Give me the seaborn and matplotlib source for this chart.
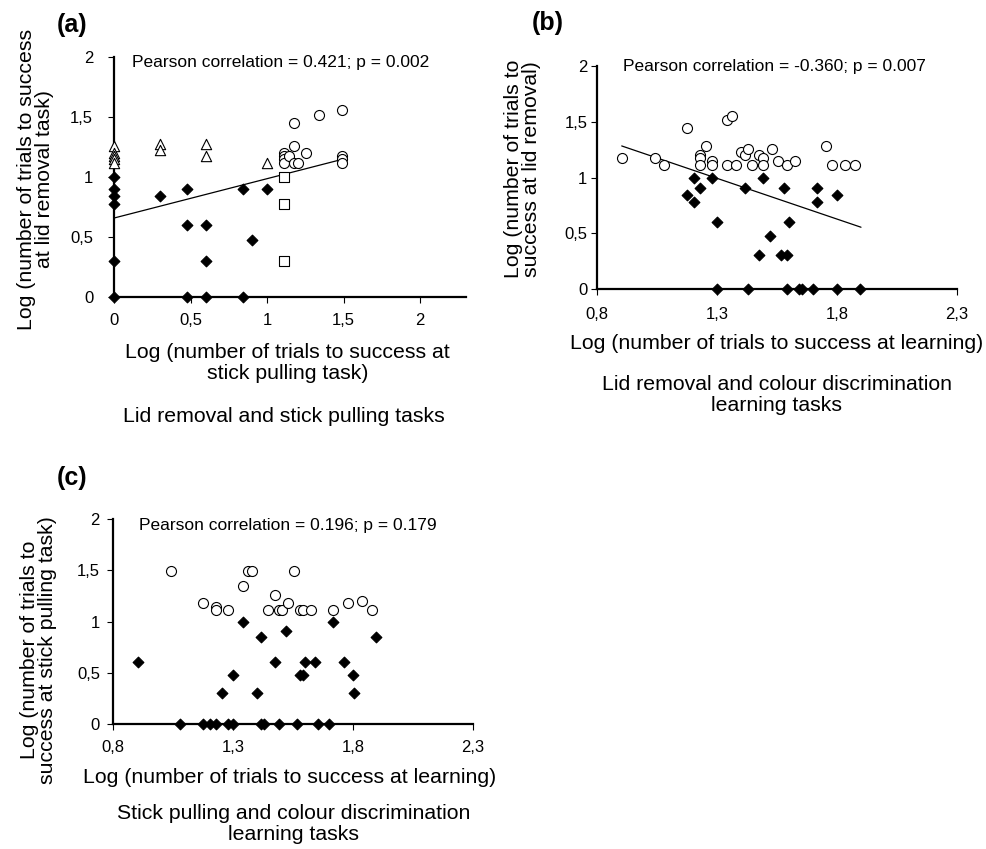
import matplotlib

matplotlib.use("Agg")
import matplotlib.pyplot as plt
import pandas as pd
import seaborn as sns

# ---- data (log10 of trials to success) ----
# panel (a): lid removal vs stick pulling
a_diamond_x = [0, 0, 0, 0, 0, 0, 0.301, 0.477, 0.477, 0.477, 0.602, 0.602, 0.602, 0.845, 0.845, 0.903, 1.0]
a_diamond_y = [1.0, 0.903, 0.845, 0.778, 0.301, 0.0, 0.845, 0.903, 0.602, 0.0, 0.602, 0.301, 0.0, 0.903, 0.0, 0.477, 0.903]
a_triangle_x = [0, 0, 0, 0, 0, 0.301, 0.301, 0.602, 0.602, 1.0]
a_triangle_y = [1.255, 1.204, 1.176, 1.146, 1.114, 1.272, 1.225, 1.272, 1.176, 1.114]
a_square_x = [1.114, 1.114, 1.114]
a_square_y = [1.0, 0.778, 0.301]
a_circle_x = [1.114, 1.114, 1.114, 1.114, 1.146, 1.176, 1.176, 1.176, 1.204, 1.255, 1.342, 1.491, 1.491, 1.491, 1.491]
a_circle_y = [1.204, 1.176, 1.146, 1.114, 1.176, 1.447, 1.255, 1.114, 1.114, 1.204, 1.519, 1.556, 1.176, 1.146, 1.114]
a_fit_x = [0.0, 1.5]
a_fit_y = [0.658, 1.15]

# panel (b): lid removal vs colour discrimination learning
b_circle_x = [0.903, 1.041, 1.079, 1.176, 1.230, 1.230, 1.230, 1.255, 1.279, 1.279, 1.340, 1.362, 1.340, 1.380, 1.398,
              1.415, 1.431, 1.447, 1.477, 1.491, 1.491, 1.531, 1.556, 1.591, 1.623, 1.756, 1.778, 1.832, 1.875]
b_circle_y = [1.176, 1.176, 1.114, 1.447, 1.204, 1.176, 1.114, 1.279, 1.146, 1.114, 1.519, 1.556, 1.114, 1.114, 1.230,
              1.204, 1.255, 1.114, 1.204, 1.176, 1.114, 1.255, 1.146, 1.114, 1.146, 1.279, 1.114, 1.114, 1.114]
b_diamond_x = [1.176, 1.204, 1.204, 1.230, 1.279, 1.301, 1.301, 1.415, 1.431, 1.477, 1.491, 1.519, 1.568, 1.580,
               1.591, 1.602, 1.591, 1.643, 1.653, 1.699, 1.716, 1.716, 1.799, 1.799, 1.897]
b_diamond_y = [0.845, 1.0, 0.778, 0.903, 1.0, 0.602, 0.0, 0.903, 0.0, 0.301, 1.0, 0.477, 0.301, 0.903,
               0.301, 0.602, 0.0, 0.0, 0.0, 0.0, 0.903, 0.778, 0.845, 0.0, 0.0]
b_fit_x = [0.903, 1.9]
b_fit_y = [1.283, 0.554]

# panel (c): stick pulling vs colour discrimination learning
c_circle_x = [1.041, 1.176, 1.230, 1.230, 1.279, 1.342, 1.362, 1.380, 1.447, 1.477, 1.491, 1.505, 1.531, 1.556,
              1.580, 1.591, 1.623, 1.716, 1.778, 1.839, 1.881]
c_circle_y = [1.491, 1.176, 1.146, 1.114, 1.114, 1.342, 1.491, 1.491, 1.114, 1.255, 1.114, 1.114, 1.176, 1.491,
              1.114, 1.114, 1.114, 1.114, 1.176, 1.204, 1.114]
c_diamond_x = [0.903, 1.079, 1.176, 1.204, 1.230, 1.255, 1.279, 1.301, 1.301, 1.342, 1.398, 1.415, 1.415, 1.431,
               1.477, 1.491, 1.519, 1.568, 1.580, 1.591, 1.602, 1.643, 1.653, 1.699, 1.716, 1.763, 1.799, 1.806, 1.897]
c_diamond_y = [0.602, 0.0, 0.0, 0.0, 0.0, 0.301, 0.0, 0.477, 0.0, 1.0, 0.301, 0.845, 0.0, 0.0,
               0.602, 0.0, 0.903, 0.0, 0.477, 0.477, 0.602, 0.602, 0.0, 0.0, 1.0, 0.602, 0.477, 0.301, 0.845]

y_ticks = [0, 0.5, 1, 1.5, 2]
y_tick_labels = ["0", "0,5", "1", "1,5", "2"]
a_x_ticks = [0, 0.5, 1, 1.5, 2]
a_x_tick_labels = ["0", "0,5", "1", "1,5", "2"]
bc_x_ticks = [0.8, 1.3, 1.8, 2.3]
bc_x_tick_labels = ["0,8", "1,3", "1,8", "2,3"]

W, H = 987, 849


def _box(left, top, right, bottom):
    return [left / W, 1 - bottom / H, (right - left) / W, (bottom - top) / H]


def _scatter(ax, xs, ys, marker, size, filled):
    df = pd.DataFrame({"x": xs, "y": ys})
    sns.scatterplot(
        data=df, x="x", y="y", ax=ax, marker=marker, s=size,
        color="black" if filled else "white", edgecolor="black",
        linewidth=0.8, clip_on=False, zorder=3, legend=False,
    )


def _fit(ax, xs, ys):
    sns.lineplot(x=xs, y=ys, ax=ax, color="black", linewidth=0.9, zorder=2)


def _style(ax, xlim, xticks, xlabels, xpad, ypad):
    ax.set_xlim(*xlim)
    ax.set_ylim(0, 2)
    ax.set_xticks(xticks)
    ax.set_xticklabels(xlabels)
    ax.set_yticks(y_ticks)
    ax.set_yticklabels(y_tick_labels)
    sns.despine(ax=ax)
    for side in ("left", "bottom"):
        ax.spines[side].set_linewidth(1.6)
        ax.spines[side].set_color("black")
    ax.tick_params(axis="both", direction="out", length=4, width=0.8, labelsize=12, colors="black")
    ax.tick_params(axis="x", pad=xpad)
    ax.tick_params(axis="y", pad=ypad)


sns.set_theme(style="ticks")
plt.rcParams["font.family"] = ["Liberation Sans", "DejaVu Sans"]
plt.rcParams["text.color"] = "black"
plt.rcParams["axes.labelcolor"] = "black"

fig = plt.figure(figsize=(W / 100, H / 100), dpi=100)

# (a)
ax_a = fig.add_axes(_box(114, 57, 466, 297))
_fit(ax_a, a_fit_x, a_fit_y)
_scatter(ax_a, a_diamond_x, a_diamond_y, "D", 30, True)
_scatter(ax_a, a_triangle_x, a_triangle_y, "^", 55, False)
_scatter(ax_a, a_square_x, a_square_y, "s", 45, False)
_scatter(ax_a, a_circle_x, a_circle_y, "o", 52, False)
_style(ax_a, (0, 2.3), a_x_ticks, a_x_tick_labels, 7.5, 11)
ax_a.text(0.051, 0.975, "Pearson correlation = 0.421; p = 0.002", transform=ax_a.transAxes,
          fontsize=12.5, va="center", ha="left")
ax_a.set_xlabel("Log (number of trials to success at\nstick pulling task)", fontsize=15.3, linespacing=1.15)
ax_a.xaxis.set_label_coords(0.493, -0.19)
ax_a.set_ylabel("Log (number of trials to success\nat lid removal task)", fontsize=15.3, linespacing=0.95)
ax_a.yaxis.set_label_coords(-0.17, 0.49)

# (b)
ax_b = fig.add_axes(_box(597, 66, 957, 289))
_fit(ax_b, b_fit_x, b_fit_y)
_scatter(ax_b, b_diamond_x, b_diamond_y, "D", 30, True)
_scatter(ax_b, b_circle_x, b_circle_y, "o", 52, False)
_style(ax_b, (0.8, 2.3), bc_x_ticks, bc_x_tick_labels, 9, 3)
ax_b.text(0.072, 1.0, "Pearson correlation = -0.360; p = 0.007", transform=ax_b.transAxes,
          fontsize=12.5, va="center", ha="left")
ax_b.set_xlabel("Log (number of trials to success at learning)", fontsize=15.3)
ax_b.xaxis.set_label_coords(0.5, -0.2)
ax_b.set_ylabel("Log (number of trials to\nsuccess at lid removal)", fontsize=15.3, linespacing=0.95)
ax_b.yaxis.set_label_coords(-0.155, 0.54)

# (c)
ax_c = fig.add_axes(_box(113, 519, 473, 724))
_scatter(ax_c, c_diamond_x, c_diamond_y, "D", 30, True)
_scatter(ax_c, c_circle_x, c_circle_y, "o", 52, False)
_style(ax_c, (0.8, 2.3), bc_x_ticks, bc_x_tick_labels, 7.5, 5.4)
ax_c.text(0.072, 0.966, "Pearson correlation = 0.196; p = 0.179", transform=ax_c.transAxes,
          fontsize=12.5, va="center", ha="left")
ax_c.set_xlabel("Log (number of trials to success at learning)", fontsize=15.3)
ax_c.xaxis.set_label_coords(0.49, -0.215)
ax_c.set_ylabel("Log (number of trials to\nsuccess at stick pulling task)", fontsize=15.3, linespacing=0.95)
ax_c.yaxis.set_label_coords(-0.155, 0.36)

# panel letters and captions
for letter, px, py in [("(a)", 57, 25), ("(b)", 532, 23), ("(c)", 57, 478)]:
    fig.text(px / W, 1 - py / H, letter, fontsize=18, fontweight="bold", ha="left", va="center")

captions = [
    ("Lid removal and stick pulling tasks", 284, 417),
    ("Lid removal and colour discrimination\nlearning tasks", 777, 395),
    ("Stick pulling and colour discrimination\nlearning tasks", 294, 824),
]
for text, px, py in captions:
    fig.text(px / W, 1 - py / H, text, fontsize=15.3, ha="center", va="center", linespacing=1.15)

fig.savefig("out.png", dpi=100)
